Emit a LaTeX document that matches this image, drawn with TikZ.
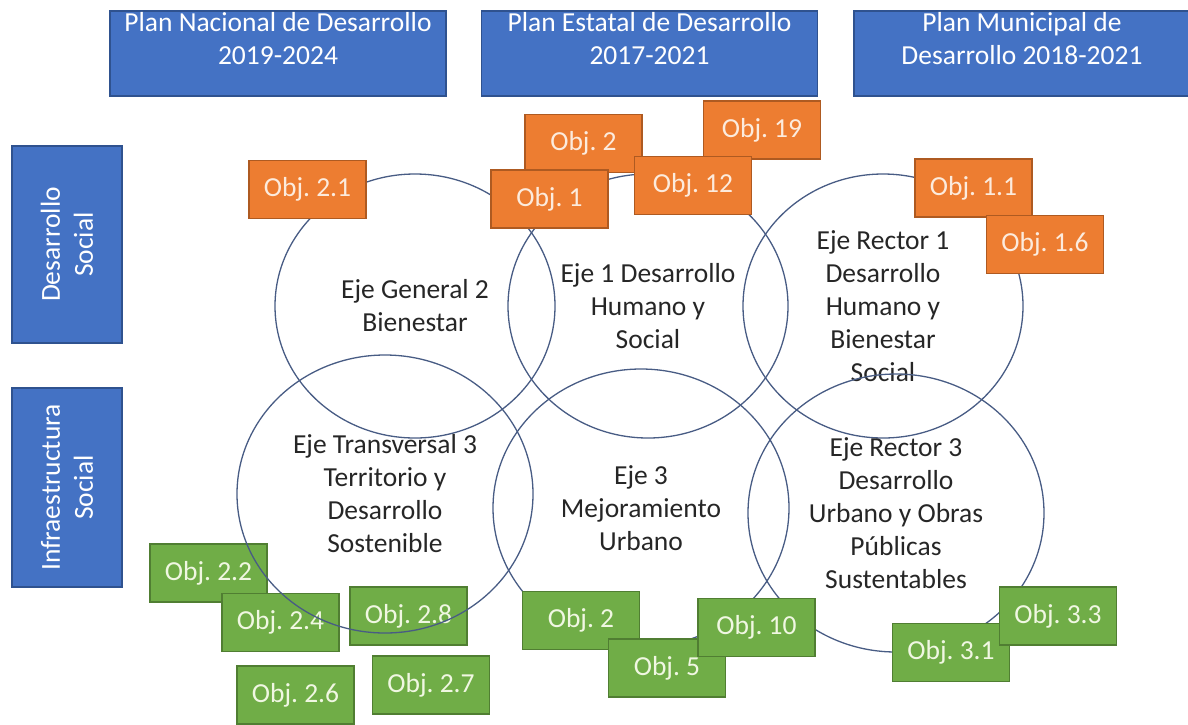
\documentclass[tikz,border=0pt]{standalone}
\usepackage{fontspec}
\setmainfont{Carlito}
\usetikzlibrary{shapes.geometric}
\frenchspacing

\definecolor{azul}{HTML}{4472C4}
\definecolor{azulborde}{HTML}{2F528F}
\definecolor{naranja}{HTML}{ED7D31}
\definecolor{naranjaborde}{HTML}{AE5A21}
\definecolor{verde}{HTML}{70AD47}
\definecolor{verdeborde}{HTML}{507E32}
\definecolor{textonaranja}{HTML}{FCEBDD}
\definecolor{textoverde}{HTML}{F0F7E2}
\definecolor{linea}{RGB}{72,92,132}

\tikzset{
  plan/.style={draw=azulborde, fill=azul, line width=1.2pt, minimum width=336pt,
    minimum height=85pt, inner sep=0pt},
  plantexto/.style={text=white, align=center, anchor=north, inner sep=0pt},
  tema/.style={draw=azulborde, fill=azul, line width=1.2pt, text=white, align=center,
    rotate=90, minimum height=110pt, inner sep=0pt},
  eje/.style={ellipse, draw=linea, line width=1.3pt, align=center, inner sep=0pt,
    outer sep=0pt, text=black!85},
  ejearriba/.style={eje, minimum width=280pt, minimum height=264pt},
  ejeabajo/.style={eje, minimum width=296pt, minimum height=278pt},
  objn/.style={draw=naranjaborde, fill=naranja, line width=1.2pt, text=textonaranja,
    minimum width=117pt, minimum height=58pt, inner sep=0pt},
  objv/.style={draw=verdeborde, fill=verde, line width=1.2pt, text=textoverde,
    minimum width=117pt, minimum height=58pt, inner sep=0pt}
}

\begin{document}
\begin{tikzpicture}[x=1pt, y=-1pt, font=\fontsize{27.5}{33}\selectfont]

  \useasboundingbox (0,0) rectangle (1188,724);

  % planes
  \node[plan] (pnd) at (278,53.5) {};
  \node[plan] (ped) at (649.5,53.5) {};
  \node[plan] (pmd) at (1022,53.5) {};
  \node[plantexto] (pnd-t) at (278,12) {Plan Nacional de Desarrollo\\2019-2024};
  \node[plantexto] (ped-t) at (649.5,12) {Plan Estatal de Desarrollo\\2017-2021};
  \node[plantexto] (pmd-t) at (1022,12) {Plan Municipal de\\Desarrollo 2018-2021};

  % temas
  \node[tema, minimum width=197pt] (ds) at (67,244.5) {Desarrollo\\Social};
  \node[tema, minimum width=199pt] (is) at (67,487.5) {Infraestructura\\Social};

  % objetivos bajo el eje transversal
  \node[objv] (g22) at (208.5,573) {Obj. 2.2};
  \node[objv] (g24) at (280.5,622.5) {Obj. 2.4};
  \node[objv] (g28) at (408.5,616) {Obj. 2.8};

  % ejes
  \node[ejearriba] (c1) at (415,306) {Eje General 2\\Bienestar};
  \node[ejearriba] (c2) at (648,306) {Eje 1 Desarrollo\\Humano y\\Social};
  \node[ejearriba] (c3) at (883,306) {Eje Rector 1\\Desarrollo\\Humano y\\Bienestar\\Social};
  \node[ejeabajo] (c4) at (385,494) {Eje Transversal 3\\Territorio y\\Desarrollo\\Sostenible};
  \node[ejeabajo] (c5) at (641,508) {Eje 3\\Mejoramiento\\Urbano};
  \node[ejeabajo] (c6) at (896,513) {Eje Rector 3\\Desarrollo\\Urbano y Obras\\Públicas\\Sustentables};

  % desarrollo social
  \node[objn] (o21) at (307.5,189.5) {Obj. 2.1};
  \node[objn] (o2) at (583.5,143.5) {Obj. 2};
  \node[objn] (o1) at (549.5,199) {Obj. 1};
  \node[objn] (o19) at (762,130) {Obj. 19};
  \node[objn] (o12) at (693,185.5) {Obj. 12};
  \node[objn] (o11) at (973.5,188) {Obj. 1.1};
  \node[objn] (o16) at (1045,244.5) {Obj. 1.6};

  % infraestructura social
  \node[objv] (g26) at (295.5,695) {Obj. 2.6};
  \node[objv] (g27) at (431,685) {Obj. 2.7};
  \node[objv] (g2) at (581,620.5) {Obj. 2};
  \node[objv] (g5) at (667,668) {Obj. 5};
  \node[objv] (g10) at (756.5,627.5) {Obj. 10};
  \node[objv] (g31) at (951,652.5) {Obj. 3.1};
  \node[objv] (g33) at (1058,616) {Obj. 3.3};

\end{tikzpicture}
\end{document}
